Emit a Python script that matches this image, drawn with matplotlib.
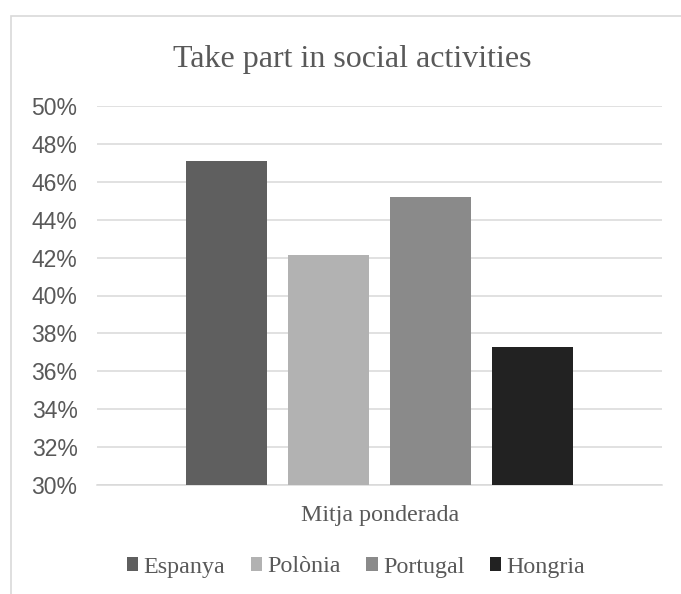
import matplotlib.pyplot as plt
from matplotlib.patches import Patch, Rectangle
from matplotlib.ticker import FuncFormatter

# values (weighted mean, %)
countries = ['Espanya', 'Polònia', 'Portugal', 'Hongria']
values = [47.1, 42.15, 45.2, 37.3]
colors = ['#5f5f5f', '#b2b2b2', '#8a8a8a', '#222222']
yticks = list(range(30, 51, 2))

text_col = '#595959'
grid_col = '#d9d9d9'

fig = plt.figure(figsize=(6.81, 5.94), dpi=100)

# chart frame (runs off the right and bottom edge)
fig.patches.append(Rectangle((11 / 681, -0.05), 1.0, 1 - 16 / 594 + 0.05,
                             transform=fig.transFigure, fill=False,
                             edgecolor=grid_col, linewidth=1.2))

ax = fig.add_axes([97 / 681, 1 - 485 / 594, 565 / 681, 379 / 594])

x = list(range(len(countries)))
ax.bar(x, values, width=0.794, color=colors, zorder=3)

ax.set_ylim(30, 50)
ax.set_xlim(-1.27, 4.27)
ax.set_yticks(yticks)
ax.yaxis.set_major_formatter(FuncFormatter(lambda v, p: f'{v:.0f}%'))
ax.set_xticks([])
ax.grid(axis='y', color=grid_col, linewidth=1.1, zorder=0)
for s in ['top', 'right', 'left']:
    ax.spines[s].set_visible(False)
ax.spines['bottom'].set_color(grid_col)
ax.spines['bottom'].set_linewidth(1.1)
ax.tick_params(axis='y', length=0, pad=14, labelsize=16.5, labelcolor=text_col)
for lab in ax.get_yticklabels():
    lab.set_fontfamily('Liberation Sans')

fig.text(352 / 681, 1 - 59 / 594, 'Take part in social activities',
         ha='center', va='center', fontsize=23, color=text_col,
         family='Liberation Serif')
fig.text(380 / 681, 1 - 516 / 594, 'Mitja ponderada', ha='center',
         va='center', fontsize=17.3, color=text_col, family='Liberation Serif')

handles = [Patch(facecolor=c, edgecolor='none') for c in colors]
leg = fig.legend(handles, countries, loc='center', ncol=4,
                 bbox_to_anchor=(356 / 681, 1 - 567 / 594), frameon=False,
                 handlelength=0.48, handleheight=0.48, handletextpad=0.22,
                 columnspacing=1.05,
                 prop={'family': 'Liberation Serif', 'size': 17.3})
for t in leg.get_texts():
    t.set_color(text_col)

fig.savefig('out.png', dpi=100)
